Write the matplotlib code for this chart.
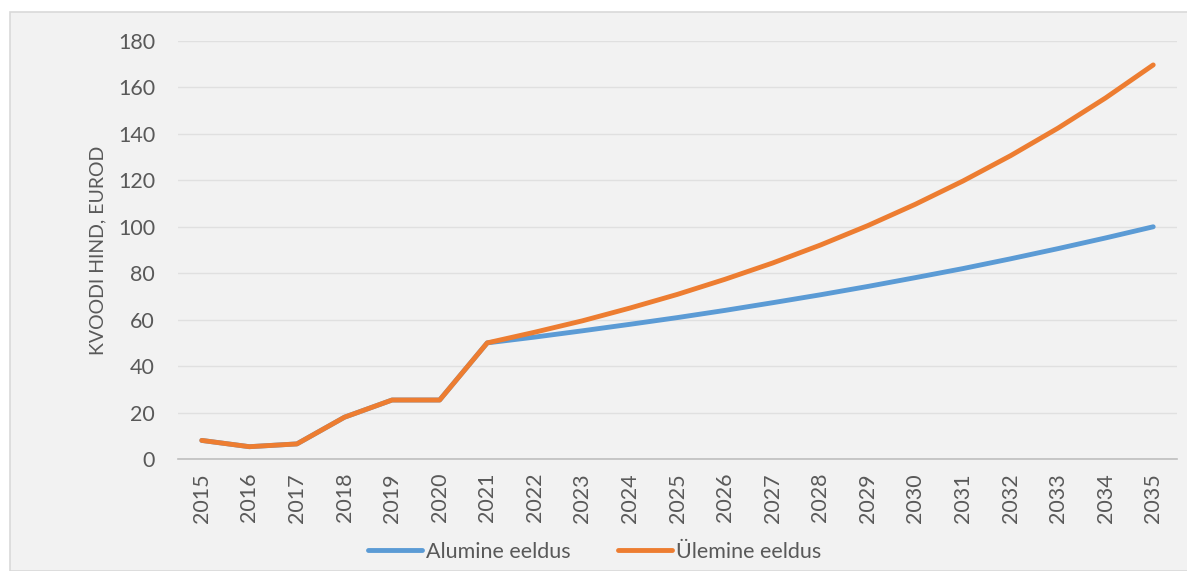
import matplotlib

matplotlib.use("Agg")
import matplotlib.pyplot as plt
from matplotlib.patches import Rectangle

plt.rcParams["font.family"] = ["Lato", "DejaVu Sans"]

years = list(range(2015, 2036))
alumine = [8, 5.3, 6.5, 18, 25.4, 25.4, 50, 52.5, 55.2, 58, 60.9, 64, 67.3,
           70.7, 74.3, 78.1, 82, 86.2, 90.6, 95.2, 100]
ulemine = [8, 5.3, 6.5, 18, 25.4, 25.4, 50, 54.6, 59.5, 65, 70.9, 77.4, 84.4,
           92.1, 100.5, 109.7, 119.7, 130.6, 142.5, 155.5, 169.7]
y_ticks = [0, 20, 40, 60, 80, 100, 120, 140, 160, 180]

TEXT = "#595959"
BG = "#f2f2f2"
W, H = 1187, 571

fig = plt.figure(figsize=(W / 100, H / 100), dpi=100)
fig.patch.set_facecolor("white")
fig.patches.append(Rectangle((10 / W, 0), 1, 1 - 12 / H, transform=fig.transFigure,
                             facecolor=BG, edgecolor="#d9d9d9", linewidth=1.2, zorder=-10))

ax = fig.add_axes([178 / W, 1 - 459 / H, (1177 - 178) / W, (459 - 41) / H])
ax.patch.set_alpha(0)

ax.plot(years, alumine, color="#5B9BD5", linewidth=3.5, solid_capstyle="round",
        solid_joinstyle="round", label="Alumine eeldus", zorder=3)
ax.plot(years, ulemine, color="#ED7D31", linewidth=3.5, solid_capstyle="round",
        solid_joinstyle="round", label="Ülemine eeldus", zorder=4)

ax.set_xlim(2014.5, 2035.5)
ax.set_ylim(0, 180)
ax.set_yticks(y_ticks)
ax.set_xticks(years)
ax.set_xticklabels([str(y) for y in years], rotation=90)
ax.tick_params(axis="both", length=0, labelsize=15.5, colors=TEXT)
ax.tick_params(axis="y", pad=16.5)
ax.tick_params(axis="x", pad=10)
ax.grid(axis="y", color="#e0e0e0", linewidth=1)
ax.set_axisbelow(True)
for side in ["top", "right", "left"]:
    ax.spines[side].set_visible(False)
ax.spines["bottom"].set_color("#bfbfbf")
ax.spines["bottom"].set_linewidth(1.2)

ax.set_ylabel("KVOODI HIND, EUROD", fontsize=14, color=TEXT, labelpad=8)

leg = ax.legend(loc="center", bbox_to_anchor=(0.417, (H - 552 - (H - 459)) / (459 - 41)),
                ncol=2, frameon=False, fontsize=15.5, handlelength=2.5, handletextpad=0.2,
                columnspacing=2.2, labelcolor=TEXT)

fig.savefig("out.png", dpi=100)
